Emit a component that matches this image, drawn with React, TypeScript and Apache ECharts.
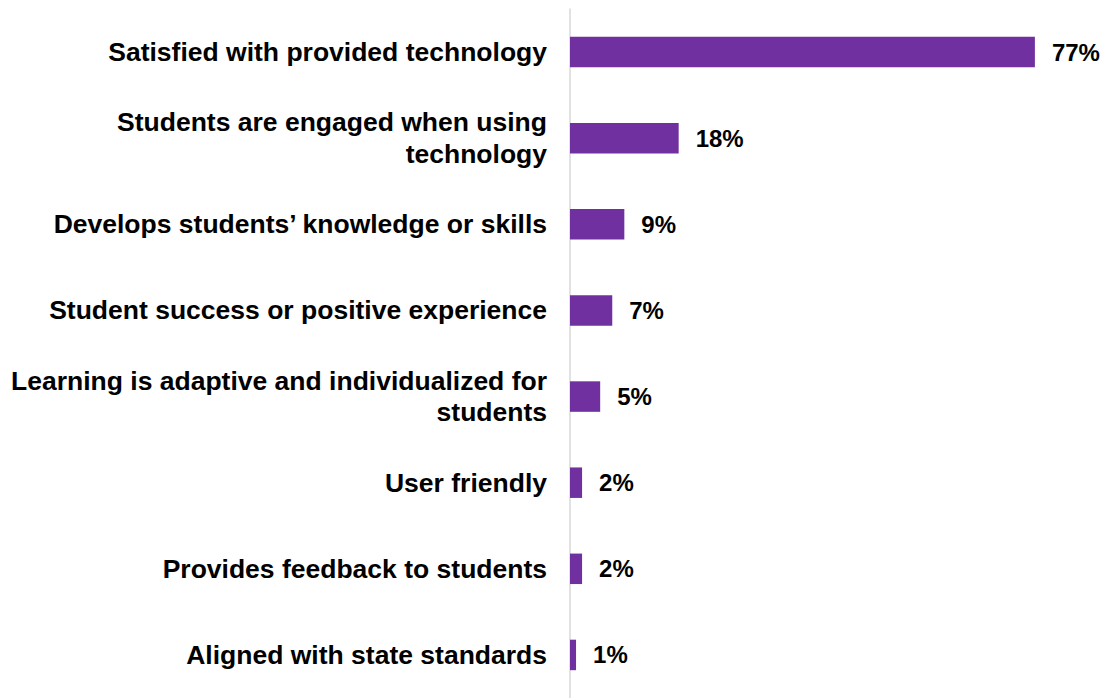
import React, { useEffect, useRef } from "react";
import * as echarts from "echarts";

const categories = [
  "Satisfied with provided technology",
  "Students are engaged when using\ntechnology",
  "Develops students’ knowledge or skills",
  "Student success or positive experience",
  "Learning is adaptive and individualized for\nstudents",
  "User friendly",
  "Provides feedback to students",
  "Aligned with state standards",
];

const values = [77, 18, 9, 7, 5, 2, 2, 1];

export default function App() {
  const ref = useRef<HTMLDivElement>(null);
  useEffect(() => {
    if (!ref.current) return;
    const chart = echarts.init(ref.current, null, { renderer: "svg" });
    chart.setOption({
      animation: false,
      backgroundColor: "#ffffff",
      grid: { left: 570, right: 56, top: 9, bottom: -3, containLabel: false },
      xAxis: {
        type: "value",
        min: 0,
        max: 80,
        show: false,
      },
      yAxis: {
        type: "category",
        data: categories,
        inverse: true,
        axisLine: { show: true, lineStyle: { color: "#d9d9d9", width: 1.5 } },
        axisTick: { show: false },
        axisLabel: {
          margin: 23,
          color: "#000000",
          fontFamily: "Liberation Sans, Arial, sans-serif",
          fontWeight: "bold",
          fontSize: 26.5,
          lineHeight: 31.5,
          align: "right",
        },
        splitLine: { show: false },
      },
      series: [
        {
          type: "bar",
          data: values,
          barWidth: 30.5,
          itemStyle: { color: "#7030A0" },
          label: {
            show: true,
            position: "right",
            distance: 17,
            formatter: "{c}%",
            color: "#000000",
            fontFamily: "Liberation Sans, Arial, sans-serif",
            fontWeight: "bold",
            fontSize: 24,
          },
        },
      ],
    });
    return () => chart.dispose();
  }, []);
  return (
    <div
      ref={ref}
      style={{ position: "absolute", left: 0, top: 0, width: 1109, height: 698 }}
    />
  );
}
